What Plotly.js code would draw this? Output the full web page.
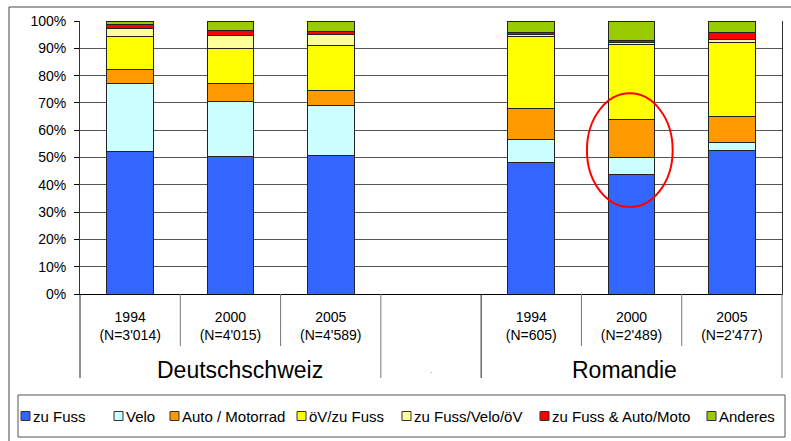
<!DOCTYPE html>
<html>
<head>
<meta charset="utf-8">
<script src="https://cdn.plot.ly/plotly-3.0.1.min.js"></script>
<style>
  html, body { margin: 0; padding: 0; background: #fff; }
  #chart { width: 791px; height: 441px; }
</style>
</head>
<body>
<div id="chart"></div>
<script>
// categories (the blank one is the empty slot between the two regions)
const categories = [
  "1994<br>(N=3'014)", "2000<br>(N=4'015)", "2005<br>(N=4'589)",
  " ",
  "1994<br>(N=605)", "2000<br>(N=2'489)", "2005<br>(N=2'477)"
]
const groups = ["Deutschschweiz", "Romandie"]

const seriesNames = [
  "zu Fuss", "Velo", "Auto / Motorrad", "öV/zu Fuss",
  "zu Fuss/Velo/öV", "zu Fuss & Auto/Moto", "Anderes"
]
const seriesColors = [
  "#3366ff", "#ccffff", "#ff9900", "#ffff00", "#ffff99", "#ff0000", "#99cc00"
]

// shares in %, one value per category
const zuFuss     = [52.1, 50.4, 50.8, null, 48.2, 43.6, 52.7]
const velo       = [25.0, 20.1, 18.4, null,  8.3,  6.5,  2.7]
const autoMoto   = [ 5.1,  6.6,  5.2, null, 11.3, 14.0,  9.7]
const oevZuFuss  = [12.2, 13.0, 16.5, null, 26.5, 27.3, 27.0]
const fussVeloOev= [ 2.8,  4.6,  4.0, null,  0.9,  0.8,  1.1]
const fussAuto   = [ 1.4,  1.9,  1.4, null,  0.6,  0.7,  2.6]
const anderes    = [ 1.4,  3.4,  3.7, null,  4.2,  7.1,  4.2]

const seriesValues = [zuFuss, velo, autoMoto, oevZuFuss, fussVeloOev, fussAuto, anderes]

const W = 791, H = 441
const M = { l: 80, r: 9, t: 21, b: 147 }
const plotW = W - M.l - M.r
const plotH = H - M.t - M.b
// pixel -> paper helpers for the decorations outside the plot area
const px = x => (x - M.l) / plotW
const py = y => (H - M.b - y) / plotH

const font = "Liberation Sans, Arial, sans-serif"

const traces = seriesNames.map((name, i) => ({
  type: "bar",
  name,
  x: categories,
  y: seriesValues[i],
  marker: { color: seriesColors[i], line: { color: "#222", width: 1 } },
  hoverinfo: "x+y+name",
}))

const nCat = categories.length
const shapes = []
const annotations = []

// separators under the category axis
for (let k = 0; k <= nCat; k++) {
  const long = k === 0 || k === 3 || k === 4 || k === nCat
  shapes.push({
    type: "line", xref: "paper", yref: "paper",
    x0: k / nCat, x1: k / nCat, y0: 0, y1: py(long ? 378 : 346),
    line: { color: k === 4 || k === 0 ? "#222" : "#777", width: 1 },
  })
}

// group labels
const groupLabel = (text, slot, y, size, color) => ({
  xref: "paper", yref: "paper", x: (slot + 0.5) / nCat, y: py(y),
  xanchor: "center", yanchor: "middle", text, showarrow: false,
  font: { family: font, size, color },
})
annotations.push(
  groupLabel(groups[0], 1.1, 370, 23, "#000"),
  groupLabel(groups[1], 4.93, 370, 23, "#000"),
  groupLabel(".", 3, 370, 8, "#555")
)

// red ellipse around Romandie 2000
shapes.push({
  type: "circle", xref: "x", yref: "y",
  x0: 4.555, x1: 5.41, y0: 31.9, y1: 73.5,
  line: { color: "#ff0000", width: 2 },
})

// outer chart border and legend box
shapes.push(
  { type: "rect", xref: "paper", yref: "paper",
    x0: px(9), x1: px(800), y0: py(7), y1: py(450),
    line: { color: "#444", width: 1 } },
  { type: "rect", xref: "paper", yref: "paper",
    x0: px(18), x1: px(785), y0: py(395), y1: py(437),
    line: { color: "#555", width: 1 } }
)

// hand-made legend
const legendX = [21, 114, 170, 297, 402, 540, 707]
const legendY = 416
seriesNames.forEach((name, i) => {
  shapes.push({
    type: "rect", xref: "paper", yref: "paper",
    x0: px(legendX[i]), x1: px(legendX[i] + 9),
    y0: py(legendY - 4.5), y1: py(legendY + 4.5),
    fillcolor: seriesColors[i], line: { color: "#333", width: 1 },
  })
  annotations.push({
    xref: "paper", yref: "paper", x: px(legendX[i] + 10), y: py(legendY),
    xanchor: "left", yanchor: "middle", text: name, showarrow: false,
    font: { family: font, size: 15, color: "#000" },
  })
})

const layout = {
  width: W, height: H,
  margin: M,
  barmode: "stack",
  bargap: 0.535,
  showlegend: false,
  paper_bgcolor: "#fff",
  plot_bgcolor: "#fff",
  font: { family: font, size: 14, color: "#000" },
  xaxis: {
    type: "category",
    categoryorder: "array",
    categoryarray: categories,
    range: [-0.5, nCat - 0.5],
    showgrid: false,
    zeroline: false,
    showline: true,
    linecolor: "#000",
    ticks: "",
    ticklabelstandoff: 10,
    tickfont: { family: font, size: 14, color: "#000" },
  },
  yaxis: {
    range: [0, 100],
    dtick: 10,
    ticksuffix: "%",
    ticks: "outside",
    ticklen: 5,
    tickcolor: "#000",
    showline: true,
    mirror: true,
    linecolor: "#333",
    gridcolor: "#555",
    gridwidth: 1,
    zeroline: false,
    ticklabelstandoff: 5,
    tickfont: { family: font, size: 14, color: "#000" },
  },
  shapes,
  annotations,
}

Plotly.newPlot("chart", traces, layout, { displayModeBar: false, staticPlot: true })
</script>
</body>
</html>
